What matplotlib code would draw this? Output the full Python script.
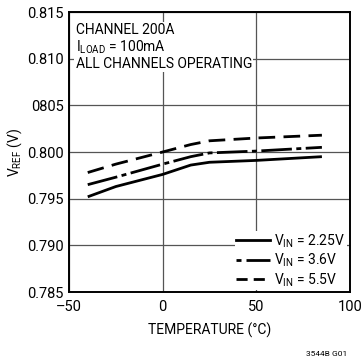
import matplotlib
matplotlib.use("Agg")
import matplotlib.pyplot as plt
from matplotlib.lines import Line2D

plt.rcParams['font.family'] = ['Roboto', 'DejaVu Sans']

temps = [-40, -25, 0, 15, 25, 50, 85]
v_225 = [0.7952, 0.7963, 0.7976, 0.7986, 0.7989, 0.7991, 0.7995]
v_36 = [0.7965, 0.7973, 0.7987, 0.7995, 0.7999, 0.8001, 0.8005]
v_55 = [0.7978, 0.7987, 0.8000, 0.8008, 0.8012, 0.8015, 0.8018]

xticks = [-50, 0, 50, 100]
xticklabels = ['\u201350', '0', '50', '100']
yticks = [0.785, 0.790, 0.795, 0.800, 0.805, 0.810, 0.815]
yticklabels = ['0.785', '0.790', '0.795', '0.800', '0805', '0.810', '0.815']

fig = plt.figure(figsize=(3.61, 3.58), dpi=100)
ax = fig.add_axes([69/361, 1-292/358, 281/361, 280/358])

ax.set_xlim(-50, 100)
ax.set_ylim(0.785, 0.815)
ax.set_xticks(xticks)
ax.set_xticklabels(xticklabels)
ax.set_yticks(yticks)
ax.set_yticklabels(yticklabels)
ax.tick_params(length=0, labelsize=10.5, pad=4)
ax.tick_params(axis='x', pad=6)
ax.grid(True, color='#555555', linewidth=0.9)
ax.set_axisbelow(True)
for s in ax.spines.values():
    s.set_linewidth(1.4)

lw = 2.0
dd = (11, 1.6, 1.8, 1.6)
ds = (6, 3)
ax.plot(temps, v_225, color='black', lw=lw, solid_capstyle='butt')
ax.plot(temps, v_36, color='black', lw=lw, dashes=dd)
ax.plot(temps, v_55, color='black', lw=lw, dashes=ds)

ax.text(-46.5, 0.8138, 'CHANNEL 200A\n$\\mathregular{I_{LOAD}}$ = 100mA\nALL CHANNELS OPERATING',
        fontsize=10, va='top', ha='left', linespacing=1.1,
        bbox=dict(facecolor='white', edgecolor='none', pad=1))

handles = [Line2D([], [], color='black', lw=lw),
           Line2D([], [], color='black', lw=lw, dashes=(1.8, 1.8, 30, 1)),
           Line2D([], [], color='black', lw=lw, dashes=(4, 2.2))]
labels = ['$\\mathregular{V_{IN}}$ = 2.25V', '$\\mathregular{V_{IN}}$ = 3.6V', '$\\mathregular{V_{IN}}$ = 5.5V']
leg = ax.legend(handles, labels, loc='lower right', bbox_to_anchor=(0.995, 0.0),
                fontsize=10, frameon=True,
                framealpha=1, edgecolor='none', fancybox=False, handlelength=2.4,
                handletextpad=0.3, borderpad=0.1, labelspacing=0.15,
                borderaxespad=0.15)

ax.set_xlabel('TEMPERATURE (\u00b0C)', fontsize=10, labelpad=6)
ax.set_ylabel('$\\mathregular{V_{REF}}$ (V)', fontsize=10, labelpad=2)

fig.text(327/361, 1-354/358, '3544B G01', fontsize=6, ha='center', va='center')

fig.savefig('out.png', dpi=100)
